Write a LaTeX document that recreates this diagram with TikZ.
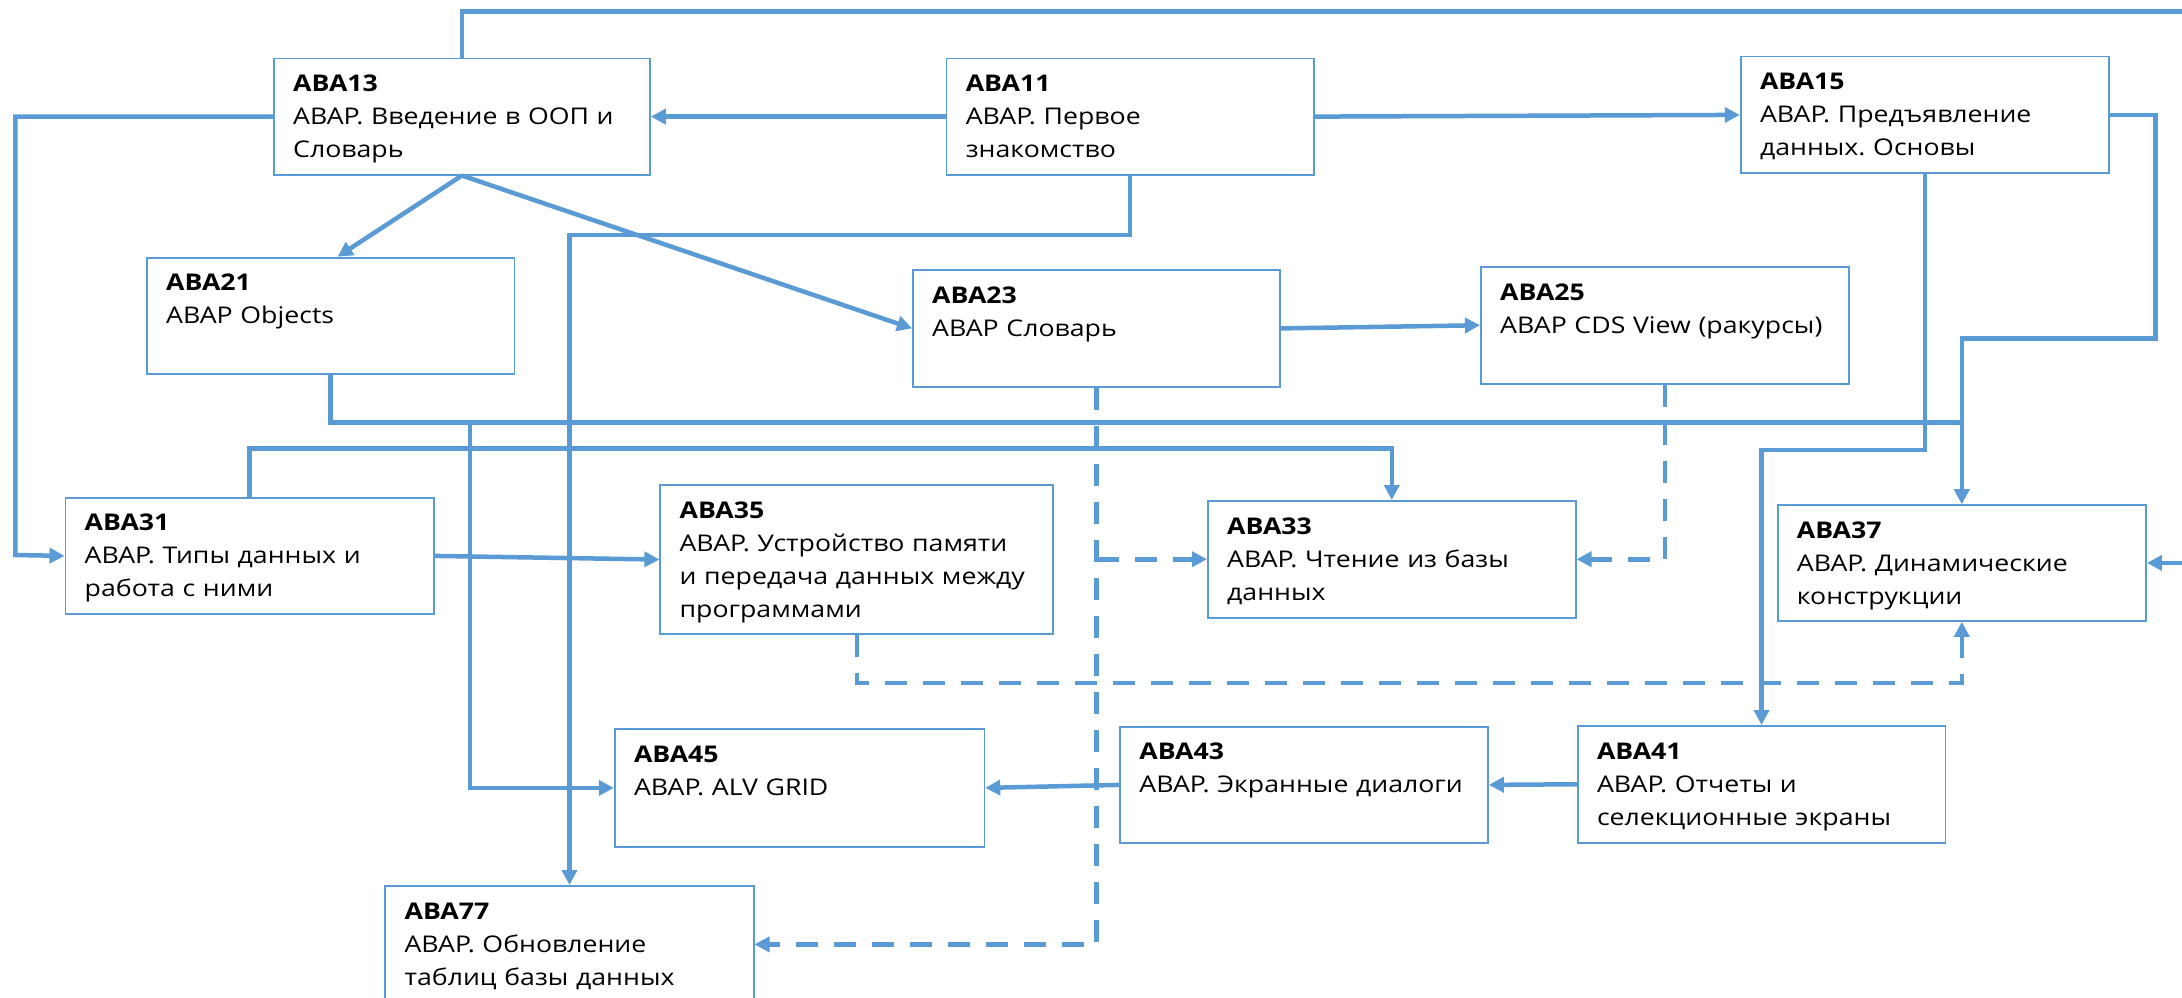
\documentclass[tikz,border=0pt]{standalone}
\usepackage{fontspec}
\setmainfont{Open Sans}[FakeStretch=1.16]
\frenchspacing
\usetikzlibrary{arrows.meta,calc}
\definecolor{cblue}{HTML}{5B9BD5}
\tikzset{
  cbox/.style={draw=cblue, line width=1.8pt, fill=white, inner sep=0pt, anchor=north west},
  ctext/.style={anchor=base west, inner sep=0pt, text width=350pt, align=left, font=\fontsize{23}{33}\selectfont},
  conn/.style={draw=cblue, line width=4.5pt, -{Triangle[length=15pt,width=15pt]}},
  dconn/.style={conn, dash pattern=on 22pt off 16pt},
}
\newcommand{\course}[7]{%
  \node[cbox, minimum width=#4pt, minimum height=#5pt] (#1) at (#2,#3) {};
  \node[ctext] (#1t) at ($(#1.north west)+(20,34)$) {\textbf{#6}\\#7};
}
\begin{document}
\begin{tikzpicture}[x=1pt,y=-1pt]
\clip (0,0) rectangle (2182,998);
\fill[white] (0,0) rectangle (2182,998);
% boxes
\course{a13}{273}{57.7}{376}{116}{ABA13}{ABAP. Введение в ООП и\\Словарь}
\course{a11}{945.6}{57.7}{367.3}{116}{ABA11}{ABAP. Первое\\знакомство}
\course{a15}{1739.8}{55.7}{368.4}{116.6}{ABA15}{ABAP. Предъявление\\данных. Основы}
\course{a21}{146}{256.7}{367.5}{116.6}{ABA21}{ABAP Objects}
\course{a23}{912}{269.3}{367.4}{116.4}{ABA23}{ABAP Словарь}
\course{a25}{1480}{266}{367.7}{116.7}{ABA25}{ABAP CDS View (ракурсы)}
\course{a31}{64.5}{496.7}{368.3}{116.6}{ABA31}{ABAP. Типы данных и\\работа с ними}
\course{a35}{659.4}{484}{392.9}{149.3}{ABA35}{ABAP. Устройство памяти\\и передача данных между\\программами}
\course{a33}{1207}{500}{367.7}{116.7}{ABA33}{ABAP. Чтение из базы\\данных}
\course{a37}{1776.7}{504}{368.4}{116}{ABA37}{ABAP. Динамические\\конструкции}
\course{a45}{613.8}{728.3}{369.7}{117.4}{ABA45}{ABAP. ALV GRID}
\course{a43}{1119.2}{725.7}{367.8}{116.6}{ABA43}{ABAP. Экранные диалоги}
\course{a41}{1576.8}{725}{367.7}{116.7}{ABA41}{ABAP. Отчеты и\\селекционные экраны}
\course{a77}{384.4}{885}{368.3}{117}{ABA77}{ABAP. Обновление\\таблиц базы данных}
% helper coordinates
\coordinate (rtop) at (2200,11.7);
\coordinate (lft) at (15.4,555);
\coordinate (r15) at (2155.5,338.3);
\coordinate (b45) at (470,420.7);
% solid connectors
\draw[conn] (a11.west) -- (a13.east);
\draw[conn] (a11.east) -- (a15.west);
\draw[conn] (a13.south) -- ([xshift=7pt]a21.north);
\draw[conn] (a13.south) -- (a23.west);
\draw[conn] (a13.north) |- (rtop) |- (a37.east);
\draw[conn] (a13.west) -| (lft) -- (a31.west);
\draw[conn] (a11.south) -- ++(0,59.6) -| (a77.north);
\draw[conn] (a21.south) -- ++(0,47.4) -| (a37.north);
\draw[conn] (b45) |- (a45.west);
\draw[conn] (a15.east) -| (r15) -| (a37.north);
\draw[conn] (a31.north) -- ++(0,-48.4) -| (a33.north);
\draw[conn] (a31.east) -- (a35.west);
\draw[conn] (a15.south) -- ++(0,276) -| (a41.north);
\draw[conn] (a23.east) -- (a25.west);
\draw[conn] (a41.west) -- (a43.east);
\draw[conn] (a43.west) -- (a45.east);
% dashed connectors
\coordinate (d33) at (a23.south |- a33.west);
\draw[dconn] (a23.south) |- (a77.east);
\draw[dconn] (d33) -- (a33.west);
\draw[dconn] (a25.south) |- (a33.east);
\draw[dconn] (a35.south) -- ++(0,47.7) -| (a37.south);
\end{tikzpicture}
\end{document}
